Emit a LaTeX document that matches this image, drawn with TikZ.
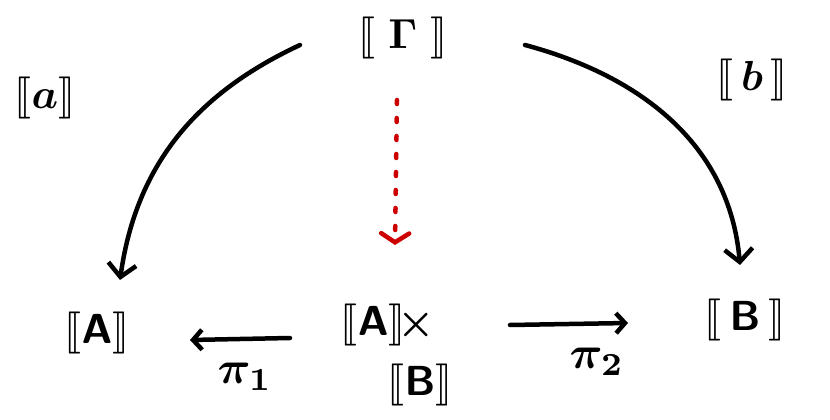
\documentclass[tikz,border=0pt]{standalone}
\usepackage{stmaryrd}
\usetikzlibrary{arrows.meta,calc}
\definecolor{redarr}{RGB}{205,0,0}
\newcommand{\bigtxt}[1]{\scalebox{4.2}{\boldmath$#1$}}
\newcommand{\pitxt}[1]{\scalebox{4.6}{\boldmath$#1$}}
\begin{document}
\begin{tikzpicture}[x=1pt,y=-1pt,
  lbl/.style={inner sep=0pt},
  arr/.style={line width=4.5pt, line cap=round, -{Straight Barb[length=13pt,width=28pt]}},
  sarr/.style={line width=4.5pt, line cap=round, -{Straight Barb[length=9pt,width=20pt]}},
  redarrow/.style={redarr, line width=4.5pt, line cap=round, dash pattern=on 4pt off 14pt, -{Straight Barb[length=9pt,width=28pt,line cap=round]}}]
\useasboundingbox (0,0) rectangle (830,420);
\node[lbl] (G) at (403,38) {\bigtxt{\llbracket\;\Gamma\;\rrbracket}};
\node[lbl] (la) at (45,98) {\bigtxt{\llbracket a\rrbracket}};
\node[lbl] (lb) at (752,80) {\bigtxt{\llbracket\, b\,\rrbracket}};
\node[lbl] (A) at (97,333) {\bigtxt{\llbracket\mathsf{A}\rrbracket}};
\node[lbl] (P1) at (388,325) {\bigtxt{\llbracket\mathsf{A}\rrbracket\!\times}};
\node[lbl] (P2) at (420,385) {\bigtxt{\llbracket\mathsf{B}\rrbracket}};
\node[lbl] (B) at (745,320) {\bigtxt{\llbracket\,\mathsf{B}\,\rrbracket}};
\node[lbl] (p1) at (245,377) {\pitxt{\pi_1}};
\node[lbl] (p2) at (597,362) {\pitxt{\pi_2}};
\draw[arr] ($(G)+(-103,7)$) to[out=205,in=82] ($(A)+(23,-53)$);
\draw[arr] ($(G)+(122,7)$) to[out=-15,in=95] ($(B)+(-5,-55)$);
\draw[sarr] ($(P1)+(-98,13)$) -- ($(A)+(93,7)$);
\draw[sarr] ($(P1)+(122,0)$) -- ($(B)+(-117,3)$);
\draw[redarrow] ($(G)+(-6,62)$) -- ($(P1)+(7,-80)$);
\end{tikzpicture}
\end{document}
